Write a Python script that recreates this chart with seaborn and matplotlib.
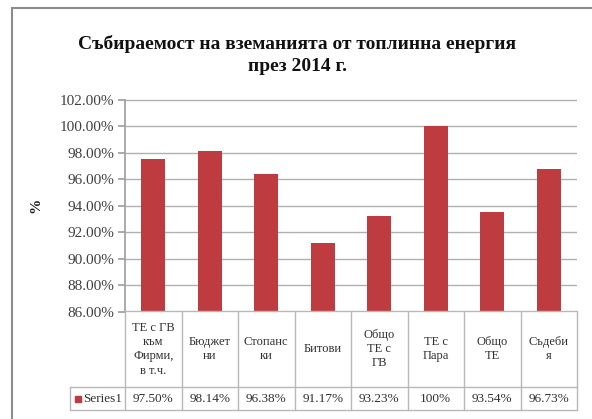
import matplotlib
matplotlib.use("Agg")
import matplotlib.pyplot as plt
import seaborn as sns
import pandas as pd
from matplotlib.patches import Rectangle
from matplotlib.lines import Line2D

categories = ["ТЕ с ГВ\nкъм\nФирми,\nв т.ч.", "Бюджет\nни", "Стопанс\nки", "Битови",
              "Общо\nТЕ с\nГВ", "ТЕ с\nПара", "Общо\nТЕ", "Съдеби\nя"]
values = [97.50, 98.14, 96.38, 91.17, 93.23, 100.0, 93.54, 96.73]
value_labels = ["97.50%", "98.14%", "96.38%", "91.17%", "93.23%", "100%", "93.54%", "96.73%"]
yticks = [86, 88, 90, 92, 94, 96, 98, 100, 102]
series_name = "Series1"
title = "Събираемост на вземанията от топлинна енергия\nпрез 2014 г."

sns.set_theme(style="white")
plt.rcParams['font.family'] = ['Liberation Serif', 'DejaVu Serif']

W, H = 592, 419
fig = plt.figure(figsize=(W / 100, H / 100), dpi=100)

def fx(px):
    return px / W

def fy(py):
    return 1 - py / H

left, right, top, bottom = 125, 577, 99.5, 311.5
ax = fig.add_axes([fx(left), fy(bottom), fx(right - left), (bottom - top) / H])

df = pd.DataFrame({"cat": categories, "val": values})
bar_color = "#BE3C3F"
sns.barplot(data=df, x="cat", y="val", ax=ax, color=bar_color, width=0.43,
            saturation=1, edgecolor="none")
ax.set_ylim(86, 102)
ax.set_xlim(-0.5, len(categories) - 0.5)
ax.set_yticks(yticks)
ax.set_yticklabels([f"{t:.2f}%" for t in yticks], fontsize=11, color="#404040")
ax.set_xticks([])
ax.set_xlabel("")
ax.set_ylabel("")
ax.yaxis.grid(True, color="#B0B0B0", linewidth=1)
ax.set_axisbelow(True)
for s in ["top", "right", "bottom"]:
    ax.spines[s].set_visible(False)
ax.spines["left"].set_color("#A0A0A0")
ax.tick_params(axis="y", which="both", left=True, length=5, color="#A0A0A0", pad=3)

# y label
fig.text(fx(36), fy(205), "%", rotation=90, ha="center", va="center",
         fontsize=11, fontweight="bold", color="#202020")

# title
fig.text(fx(297), fy(55), title, ha="center", va="center", fontsize=14,
         fontweight="bold", color="#111111", linespacing=1.4)

# data table
line_c = "#B8B8B8"
row1_top, row1_bot, row2_bot = 311.5, 387, 410
cw = (right - left) / len(categories)
def hline(y, x0, x1):
    fig.add_artist(Line2D([fx(x0), fx(x1)], [fy(y), fy(y)], color=line_c, lw=1))
def vline(x, y0, y1):
    fig.add_artist(Line2D([fx(x), fx(x)], [fy(y0), fy(y1)], color=line_c, lw=1))

hline(row1_top, left, right)
hline(row1_bot, 70, right)
hline(row2_bot, 70, right)
vline(70, row1_bot, row2_bot)
for i in range(len(categories) + 1):
    vline(left + i * cw, row1_top, row2_bot)

for i, (c, v) in enumerate(zip(categories, value_labels)):
    cx = left + (i + 0.5) * cw
    fig.text(fx(cx), fy((row1_top + row1_bot) / 2), c, ha="center", va="center",
             fontsize=9, color="#303030", linespacing=1.25)
    fig.text(fx(cx), fy((row1_bot + row2_bot) / 2), v, ha="center", va="center",
             fontsize=9.5, color="#303030")

# legend key in table
fig.add_artist(Rectangle((fx(75), fy(402)), fx(6), 6 / H, color=bar_color,
                         transform=fig.transFigure))
fig.text(fx(83), fy(398.5), series_name, ha="left", va="center", fontsize=9.5,
         color="#303030")

# outer chart border (only top and left edges visible in the crop)
fig.add_artist(Line2D([fx(12), 1.0], [fy(8), fy(8)], color="#8C8C8C", lw=1.5))
fig.add_artist(Line2D([fx(12), fx(12)], [fy(8), 0.0], color="#8C8C8C", lw=1.5))

fig.savefig("out.png", dpi=100, facecolor="white")
